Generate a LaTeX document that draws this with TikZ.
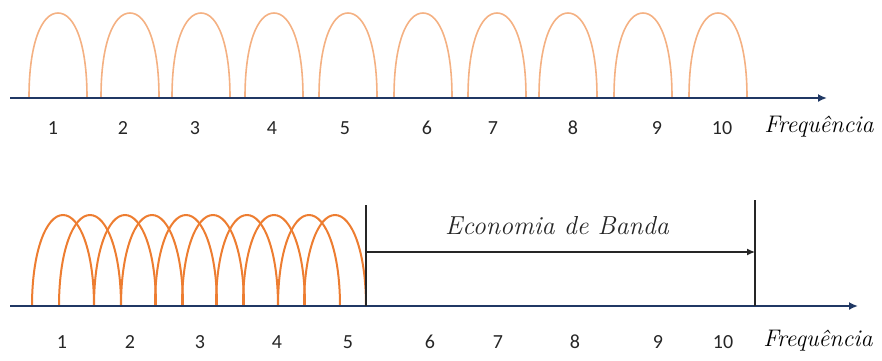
\documentclass[tikz,border=0pt]{standalone}
\usepackage{fontspec}
\newfontfamily\numfont{Carlito}
\usetikzlibrary{arrows.meta}
\definecolor{navy}{HTML}{203864}
\definecolor{peach}{HTML}{F4B183}
\definecolor{carrot}{HTML}{ED7D31}
\definecolor{charcoal}{HTML}{262626}

\begin{document}
\begin{tikzpicture}[x=1pt,y=-1pt,>=Latex]
  \tikzset{
    axis/.style={navy,line width=2.6pt,-{Latex[length=9pt,width=8pt]}},
    lightwave/.style={peach,line width=1.6pt},
    boldwave/.style={carrot,line width=2pt},
    band/.style={charcoal,line width=1.3pt},
    bandarrow/.style={charcoal,line width=1.3pt,-{Latex[length=8pt,width=7pt]}},
    tick/.style={text=charcoal,font=\numfont\fontsize{20}{22}\selectfont},
    axislabel/.style={text=black,font=\itshape\fontsize{24}{26}\selectfont},
    bandlabel/.style={text=charcoal,font=\itshape\fontsize{26}{28}\selectfont}
  }
  \useasboundingbox (0,0) rectangle (882,360);

  % Separate carriers.
  \coordinate (topStart) at (10,98);
  \coordinate (topEnd) at (827,98);
  \foreach \x in {58,130,201,274,348,423,497,568,643,718}
    \draw[lightwave] (\x-29,97) .. controls (\x-29,45) and (\x-17,13) .. (\x,13)
      .. controls (\x+17,13) and (\x+29,45) .. (\x+29,97);
  \draw[axis] (topStart) -- (topEnd);
  \foreach \x [count=\i] in {53,123,195,272,345,427,493,573,657,722}
    \node[tick] (top\i) at (\x,128) {\i};
  \node[axislabel] (topFreq) at (819,127) {Frequência};

  % Overlapping carriers.
  \coordinate (botStart) at (10,306);
  \coordinate (botEnd) at (858,306);
  \foreach \x in {63,90,125,152,186,213,247,274,309,335}
    \draw[boldwave] (\x-31,306) .. controls (\x-31,252) and (\x-17,215) .. (\x,215)
      .. controls (\x+17,215) and (\x+31,252) .. (\x+31,306);
  \draw[axis] (botStart) -- (botEnd);
  \foreach \x [count=\i] in {62,130,200,277,348,430,498,575,658,723}
    \node[tick] (bot\i) at (\x,342) {\i};
  \node[axislabel] (botFreq) at (818,341) {Frequência};

  % Saved band.
  \coordinate (bandLtop) at (366,205);
  \coordinate (bandLbot) at (366,306);
  \coordinate (bandRtop) at (755,200);
  \coordinate (bandRbot) at (755,306);
  \coordinate (bandL) at (366,252);
  \coordinate (bandR) at (755,252);
  \draw[band] (bandLtop) -- (bandLbot);
  \draw[band] (bandRtop) -- (bandRbot);
  \draw[bandarrow] (bandL) -- (bandR);
  \node[bandlabel] (saving) at (557,226) {Economia de Banda};
\end{tikzpicture}
\end{document}
